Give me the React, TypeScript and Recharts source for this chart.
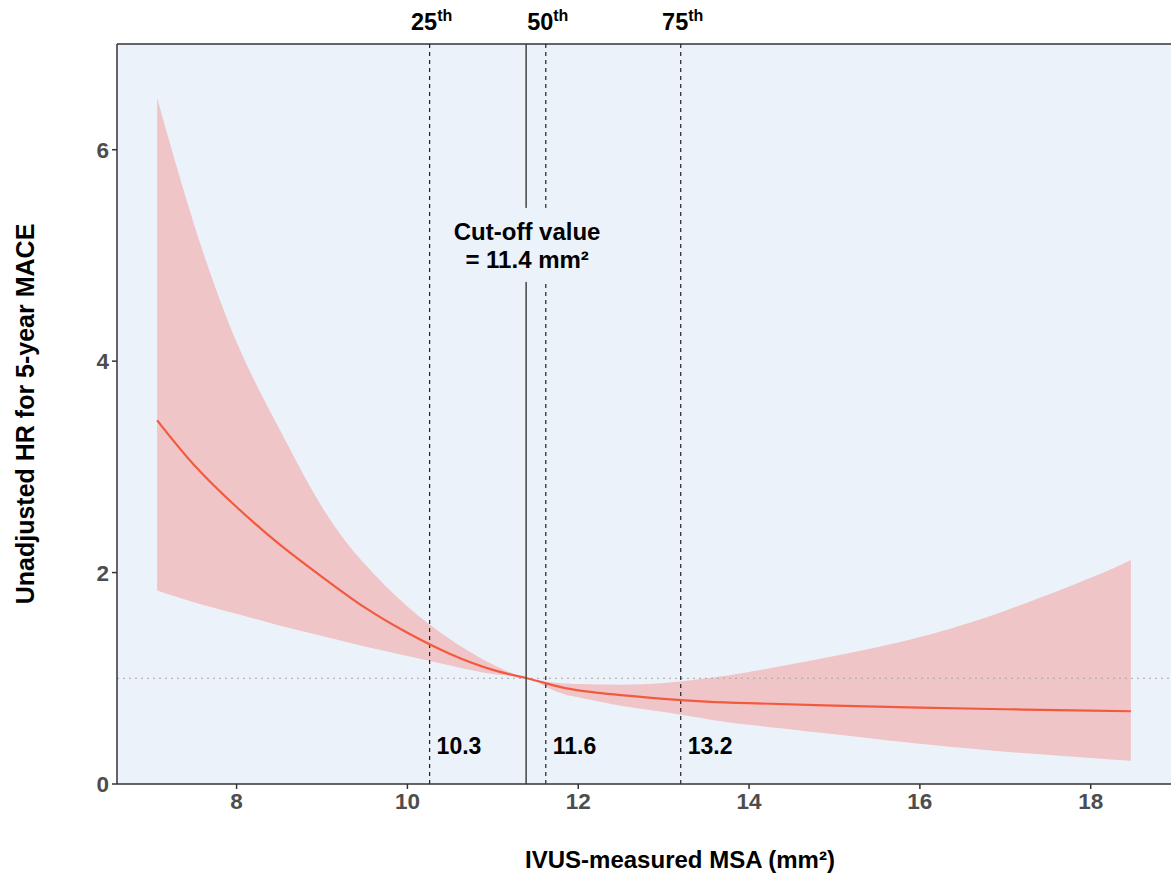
import React from 'react';
import {
  ComposedChart,
  Area,
  Line,
  XAxis,
  YAxis,
  CartesianGrid,
  ReferenceLine,
  ReferenceDot,
} from 'recharts';

const FONT = '"Liberation Sans", Arial, Helvetica, sans-serif';

// MSA (mm2) grid and the spline estimates
const msa = [7.07, 7.5, 8, 8.5, 9, 9.5, 10, 10.5, 11, 11.4, 11.7, 12, 12.5, 13, 13.5, 14, 15, 16, 17, 18, 18.47];
const hrFit = [3.44, 3.02, 2.62, 2.27, 1.96, 1.67, 1.43, 1.23, 1.08, 1.0, 0.935, 0.885, 0.84, 0.805, 0.78, 0.765, 0.742, 0.722, 0.707, 0.695, 0.688];
const hrLower = [1.83, 1.72, 1.61, 1.5, 1.4, 1.3, 1.21, 1.12, 1.04, 1.0, 0.89, 0.82, 0.74, 0.68, 0.615, 0.56, 0.47, 0.38, 0.305, 0.245, 0.218];
const hrUpper = [6.49, 5.3, 4.18, 3.36, 2.62, 2.08, 1.68, 1.37, 1.13, 1.0, 0.96, 0.945, 0.94, 0.955, 1.0, 1.06, 1.21, 1.39, 1.64, 1.95, 2.12];

// percentile markers
const pctValues = [10.26, 11.62, 13.2];
const pctNames = ['25', '50', '75'];
const pctLabels = ['10.3', '11.6', '13.2'];
const cutoff = 11.39;

const xTicks = [8, 10, 12, 14, 16, 18];
const yTicks = [0, 2, 4, 6];

const rows = msa.map((x, i) => ({
  msa: x,
  fit: hrFit[i],
  band: [hrLower[i], hrUpper[i]],
}));

const tickStyle = { fontFamily: FONT, fontSize: 22.5, fontWeight: 700, fill: '#4D4D4D' };

function TopLabel({ cx, cy, name }: any) {
  return (
    <text x={cx + 2} y={cy - 14} textAnchor="middle" fontFamily={FONT} fontSize={23.5} fontWeight={700} fill="#000">
      {name}
      <tspan fontSize={16} dy={-9}>th</tspan>
    </text>
  );
}

function BottomLabel({ cx, cy, label }: any) {
  return (
    <text x={cx + 7} y={cy - 30} textAnchor="start" fontFamily={FONT} fontSize={23} fontWeight={700} fill="#000">
      {label}
    </text>
  );
}

function CutoffLabel({ cx, cy }: any) {
  return (
    <g>
      <rect x={cx - 80} y={cy - 38} width={160} height={74} fill="#EBF2FA" />
      <text x={cx + 1} y={cy - 6} textAnchor="middle" fontFamily={FONT} fontSize={24} fontWeight={700} fill="#000">
        Cut-off value
      </text>
      <text x={cx + 1} y={cy + 22} textAnchor="middle" fontFamily={FONT} fontSize={24} fontWeight={700} fill="#000">
        = 11.4 mm²
      </text>
    </g>
  );
}

export default function App() {
  return (
    <div style={{ position: 'absolute', left: 0, top: 0, width: 1171, height: 877, background: '#fff', overflow: 'hidden' }}>
      <ComposedChart width={1171} height={877} data={rows} margin={{ top: 44, right: 0, bottom: 0, left: 0 }}>
        <CartesianGrid fill="#EBF2FA" horizontal={false} vertical={false} />
        <XAxis
          dataKey="msa"
          type="number"
          domain={[6.6, 18.94]}
          ticks={xTicks}
          allowDataOverflow
          height={93}
          tick={tickStyle}
          tickSize={5}
          tickMargin={4}
          axisLine={{ stroke: '#333', strokeWidth: 1.5 }}
          tickLine={{ stroke: '#333', strokeWidth: 1.5 }}
          label={({ viewBox }: any) => (
            <text x={680} y={viewBox.y + 84} textAnchor="middle" fontFamily={FONT} fontSize={24} fontWeight={700} fill="#000">
              IVUS-measured MSA (mm²)
            </text>
          )}
        />
        <YAxis
          type="number"
          domain={[0, 7]}
          ticks={yTicks}
          width={117}
          tick={tickStyle}
          tickSize={5}
          tickMargin={3}
          axisLine={{ stroke: '#333', strokeWidth: 1.5 }}
          tickLine={{ stroke: '#333', strokeWidth: 1.5 }}
          label={({ viewBox }: any) => (
            <text
              x={34}
              y={viewBox.y + viewBox.height / 2}
              transform={`rotate(-90, 34, ${viewBox.y + viewBox.height / 2})`}
              textAnchor="middle"
              fontFamily={FONT}
              fontSize={25}
              fontWeight={700}
              fill="#000"
            >
              Unadjusted HR for 5-year MACE
            </text>
          )}
        />
        <Area
          dataKey="band"
          type="natural"
          stroke="none"
          fill="#F0C5C7"
          fillOpacity={1}
          isAnimationActive={false}
          activeDot={false}
        />
        <ReferenceLine y={1} stroke="#A6A6A6" strokeWidth={1} strokeDasharray="2 4" />
        <ReferenceLine y={7} stroke="#333" strokeWidth={1.5} />
        {pctValues.map((v, i) => (
          <ReferenceLine key={'l' + i} x={v} stroke="#222" strokeWidth={1.2} strokeDasharray="4 4" />
        ))}
        <Line
          dataKey="fit"
          type="natural"
          stroke="#F25A40"
          strokeWidth={2.2}
          dot={false}
          activeDot={false}
          isAnimationActive={false}
        />
        <ReferenceLine x={cutoff} stroke="#444" strokeWidth={1.5} />
        {pctValues.map((v, i) => (
          <ReferenceDot
            key={'t' + i}
            x={v}
            y={7}
            r={0}
            ifOverflow="visible"
            shape={(p: any) => <TopLabel {...p} name={pctNames[i]} />}
          />
        ))}
        {pctValues.map((v, i) => (
          <ReferenceDot
            key={'b' + i}
            x={v}
            y={0}
            r={0}
            ifOverflow="visible"
            shape={(p: any) => <BottomLabel {...p} label={pctLabels[i]} />}
          />
        ))}
        <ReferenceDot x={cutoff} y={5.09} r={0} ifOverflow="visible" shape={(p: any) => <CutoffLabel {...p} />} />
      </ComposedChart>
    </div>
  );
}
